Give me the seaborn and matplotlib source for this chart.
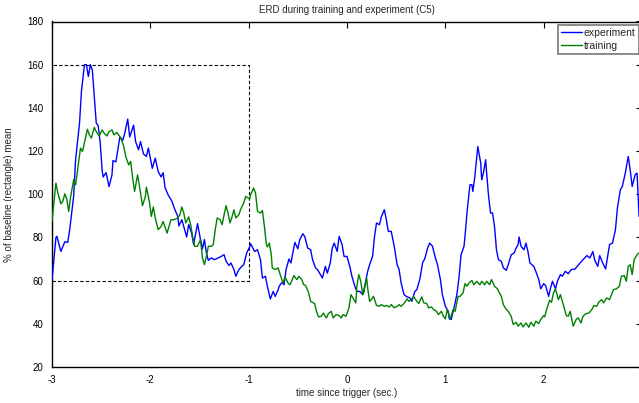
import numpy as np
import pandas as pd
import matplotlib
matplotlib.use("Agg")
import matplotlib.pyplot as plt
import seaborn as sns
from matplotlib.patches import Rectangle

# ---- data ----
exp_t = [-3.00, -2.96, -2.95, -2.91, -2.87, -2.84, -2.82, -2.78, -2.76, -2.72, -2.70, -2.67, -2.65, -2.63,
         -2.61, -2.59, -2.57, -2.55, -2.53, -2.51, -2.49, -2.48, -2.45, -2.42, -2.39, -2.38, -2.35, -2.33,
         -2.31, -2.28, -2.26, -2.23, -2.21, -2.17, -2.15, -2.12, -2.10, -2.07, -2.04, -2.02, -1.98, -1.95,
         -1.92, -1.89, -1.87, -1.85, -1.82, -1.78, -1.75, -1.72, -1.71, -1.68, -1.65, -1.63, -1.61, -1.58,
         -1.56, -1.52, -1.49, -1.47, -1.45, -1.43, -1.41, -1.38, -1.35, -1.31, -1.28, -1.25, -1.23, -1.20,
         -1.18, -1.15, -1.13, -1.10, -1.07, -1.05, -1.02, -0.99, -0.98, -0.94, -0.91, -0.88, -0.86, -0.83,
         -0.81, -0.78, -0.75, -0.73, -0.70, -0.69, -0.66, -0.64, -0.62, -0.59, -0.57, -0.55, -0.53, -0.50,
         -0.48, -0.45, -0.43, -0.40, -0.37, -0.35, -0.32, -0.30, -0.27, -0.25, -0.22, -0.20, -0.17, -0.15,
         -0.13, -0.10, -0.08, -0.05, -0.03, 0.00, 0.03, 0.05, 0.08, 0.10, 0.13, 0.16, 0.18, 0.21, 0.23,
         0.26, 0.28, 0.30, 0.33, 0.35, 0.38, 0.40, 0.42, 0.45, 0.48, 0.51, 0.53, 0.55, 0.58, 0.61, 0.64,
         0.66, 0.69, 0.71, 0.74, 0.77, 0.79, 0.82, 0.84, 0.87, 0.89, 0.92, 0.95, 0.97, 1.00, 1.03, 1.04,
         1.06, 1.08, 1.10, 1.12, 1.14, 1.16, 1.19, 1.20, 1.22, 1.25, 1.27, 1.28, 1.30, 1.32, 1.33, 1.36,
         1.37, 1.39, 1.41, 1.42, 1.44, 1.46, 1.48, 1.50, 1.52, 1.54, 1.57, 1.59, 1.62, 1.64, 1.67, 1.70,
         1.72, 1.74, 1.75, 1.77, 1.80, 1.82, 1.84, 1.86, 1.90, 1.92, 1.95, 1.97, 2.00, 2.02, 2.05, 2.07,
         2.09, 2.12, 2.14, 2.17, 2.19, 2.22, 2.25, 2.28, 2.32, 2.37, 2.40, 2.44, 2.47, 2.50, 2.52, 2.55,
         2.57, 2.60, 2.63, 2.65, 2.67, 2.70, 2.73, 2.75, 2.78, 2.80, 2.83, 2.86, 2.88, 2.90, 2.93, 2.95,
         2.97]
exp_v = [60.2, 80.0, 80.5, 73.5, 78.0, 77.7, 83.6, 99.0, 116.0, 133.0, 148.0, 160.0, 160.0, 154.5,
         160.0, 157.6, 145.0, 133.0, 131.7, 124.0, 111.0, 108.0, 110.0, 103.5, 109.0, 115.6, 115.0, 120.6,
         126.5, 125.0, 128.3, 134.8, 126.5, 132.0, 124.4, 120.6, 124.4, 118.7, 117.5, 121.4, 112.0, 116.7,
         110.5, 108.0, 110.0, 103.0, 99.8, 96.7, 92.8, 89.7, 85.3, 88.2, 83.3, 80.2, 86.0, 82.0,
         76.7, 86.4, 79.0, 74.7, 79.0, 72.8, 69.4, 70.5, 69.7, 70.5, 71.2, 72.0, 69.0, 67.0,
         68.2, 65.1, 62.0, 65.1, 66.6, 67.4, 72.8, 75.6, 77.1, 73.5, 74.3, 69.7, 61.2, 62.0,
         57.4, 51.5, 55.0, 52.7, 55.8, 57.4, 59.2, 58.1, 65.1, 70.0, 68.2, 73.1, 77.7, 74.7,
         79.0, 81.7, 80.5, 75.1, 74.3, 69.7, 65.9, 65.1, 62.8, 61.2, 66.6, 63.5, 68.2, 75.1,
         77.4, 73.5, 80.5, 76.7, 71.2, 71.2, 66.3, 62.0, 57.4, 55.0, 55.0, 53.5, 57.4, 64.3, 67.4,
         71.2, 80.5, 86.7, 85.9, 89.7, 92.8, 88.2, 82.8, 82.8, 75.9, 67.4, 65.1, 59.0, 53.5, 52.5, 52.0,
         50.4, 55.0, 55.8, 60.5, 68.5, 70.0, 75.1, 77.4, 75.9, 72.0, 67.4, 60.5, 53.5, 48.1, 45.8, 42.3,
         42.0, 45.8, 49.7, 54.3, 62.0, 72.0, 75.9, 80.5, 91.3, 104.4, 104.4, 101.3, 108.2, 117.5, 122.1, 114.4,
         106.7, 110.5, 116.0, 109.8, 99.0, 91.3, 91.3, 85.1, 74.3, 69.7, 68.9, 65.9, 64.8, 67.4, 72.0, 72.8,
         75.1, 76.7, 80.2, 75.9, 74.3, 77.4, 73.5, 68.2, 66.6, 64.3, 60.5, 56.2, 58.6, 57.7, 52.7, 56.6,
         59.7, 56.2, 59.7, 62.8, 62.0, 64.3, 63.2, 65.1, 65.4, 68.2, 69.7, 71.6, 70.5, 73.5, 69.4, 66.6,
         71.6, 68.2, 65.4, 71.2, 76.7, 77.4, 83.6, 93.6, 102.1, 103.6, 109.8, 117.5, 111.3, 103.6, 109.0, 109.8,
         89.7]

trn_t = [-3.00, -2.96, -2.94, -2.91, -2.89, -2.87, -2.85, -2.83, -2.81, -2.78, -2.76, -2.73, -2.71, -2.69,
         -2.66, -2.64, -2.62, -2.60, -2.57, -2.55, -2.52, -2.49, -2.47, -2.44, -2.42, -2.39, -2.37, -2.34,
         -2.30, -2.27, -2.25, -2.22, -2.20, -2.18, -2.16, -2.13, -2.11, -2.08, -2.05, -2.04, -2.01, -1.99,
         -1.97, -1.95, -1.92, -1.89, -1.87, -1.85, -1.83, -1.81, -1.79, -1.76, -1.72, -1.70, -1.68, -1.66,
         -1.64, -1.61, -1.59, -1.57, -1.55, -1.52, -1.49, -1.47, -1.45, -1.43, -1.41, -1.38, -1.36, -1.34,
         -1.32, -1.29, -1.27, -1.25, -1.23, -1.21, -1.19, -1.17, -1.15, -1.13, -1.10, -1.08, -1.05, -1.03,
         -0.99, -0.98, -0.95, -0.93, -0.91, -0.88, -0.86, -0.84, -0.82, -0.81, -0.79, -0.77, -0.76, -0.73,
         -0.70, -0.68, -0.65, -0.63, -0.60, -0.58, -0.56, -0.54, -0.51, -0.49, -0.46, -0.44, -0.42, -0.39,
         -0.37, -0.33, -0.31, -0.29, -0.26, -0.24, -0.21, -0.19, -0.16, -0.14, -0.11, -0.08, -0.06, -0.04,
         -0.01, 0.02, 0.04, 0.06, 0.09, 0.10, 0.12, 0.14, 0.16, 0.17, 0.20, 0.21, 0.23, 0.26, 0.27,
         0.30, 0.33, 0.35, 0.38, 0.40, 0.43, 0.45, 0.48, 0.51, 0.53, 0.55, 0.58, 0.61, 0.63, 0.65,
         0.68, 0.71, 0.73, 0.76, 0.78, 0.81, 0.83, 0.86, 0.88, 0.91, 0.93, 0.96, 0.98, 1.00, 1.02,
         1.05, 1.08, 1.10, 1.13, 1.15, 1.18, 1.20, 1.22, 1.24, 1.27, 1.29, 1.32, 1.35, 1.37, 1.40,
         1.42, 1.45, 1.47, 1.50, 1.53, 1.55, 1.57, 1.59, 1.62, 1.64, 1.67, 1.69, 1.72, 1.74, 1.77,
         1.79, 1.82, 1.85, 1.87, 1.90, 1.92, 1.95, 1.97, 2.00, 2.01, 2.03, 2.06, 2.08, 2.10, 2.12,
         2.15, 2.17, 2.20, 2.23, 2.25, 2.27, 2.30, 2.33, 2.35, 2.38, 2.40, 2.43, 2.46, 2.49, 2.51,
         2.54, 2.56, 2.59, 2.61, 2.64, 2.67, 2.69, 2.71, 2.74, 2.77, 2.79, 2.82, 2.84, 2.86, 2.88,
         2.90, 2.92, 2.95, 2.97]
trn_v = [87.6, 105.2, 100.5, 95.6, 96.7, 100.2, 97.8, 92.0, 99.0, 106.7, 104.4, 114.4, 121.4, 119.8,
         126.0, 130.1, 127.5, 126.0, 131.0, 129.0, 127.0, 129.8, 128.3, 127.0, 129.0, 129.8, 127.5, 128.6,
         126.0, 122.1, 117.5, 113.6, 115.2, 107.5, 101.3, 109.0, 103.6, 94.7, 99.0, 103.3, 96.7, 89.7,
         94.1, 89.0, 83.6, 85.1, 87.4, 84.8, 82.0, 85.1, 88.2, 88.2, 89.0, 90.5, 94.1, 91.3,
         86.7, 89.5, 85.9, 80.5, 75.9, 75.9, 79.0, 70.5, 67.4, 71.2, 75.9, 75.9, 76.7, 83.6,
         89.0, 88.2, 85.9, 90.5, 94.7, 91.3, 86.7, 89.5, 92.8, 89.0, 90.5, 93.2, 96.0, 99.0,
         97.8, 99.8, 102.9, 100.5, 92.0, 91.3, 92.5, 85.1, 76.7, 75.6, 77.4, 72.0, 65.9, 65.1,
         65.9, 62.8, 58.9, 61.7, 58.9, 58.1, 60.1, 62.3, 60.5, 62.0, 60.5, 58.1, 57.7, 54.3,
         50.4, 49.4, 45.8, 43.2, 43.5, 45.0, 42.7, 44.7, 45.8, 42.7, 44.3, 43.8, 42.7, 44.3,
         43.5, 47.4, 53.5, 52.0, 49.7, 57.4, 62.8, 59.7, 53.5, 54.3, 61.2, 56.6, 50.4, 52.0, 52.7,
         48.5, 48.1, 48.9, 48.1, 48.5, 47.8, 48.9, 47.4, 48.1, 48.9, 48.1, 49.4, 51.5, 50.4, 51.2,
         52.5, 50.4, 49.4, 52.5, 49.7, 49.4, 47.4, 47.8, 46.6, 45.8, 44.3, 45.8, 43.5, 42.3, 46.6,
         42.3, 46.6, 45.8, 52.7, 52.7, 54.3, 58.6, 57.4, 58.9, 60.1, 58.1, 59.7, 58.1, 59.7, 58.1,
         59.7, 58.1, 60.5, 57.4, 56.2, 54.3, 52.7, 48.9, 46.6, 45.8, 43.5, 39.7, 40.7, 38.9, 40.4,
         38.6, 40.4, 38.4, 40.7, 38.9, 41.2, 40.1, 42.0, 43.8, 43.2, 46.6, 50.9, 50.0, 54.3, 56.2,
         51.2, 53.5, 48.9, 43.8, 43.5, 45.8, 38.9, 42.0, 42.8, 40.4, 43.5, 44.7, 45.0, 46.6, 48.5,
         48.1, 50.0, 51.2, 49.7, 52.0, 51.2, 53.5, 55.8, 56.2, 57.4, 62.0, 62.3, 59.7, 66.6, 67.4,
         62.8, 69.7, 72.0, 72.8]

series_names = ["experiment", "training"]
series_colors = ["#0000ff", "#008000"]
x_ticks = [-3, -2, -1, 0, 1, 2, 3]
y_ticks = [20, 40, 60, 80, 100, 120, 140, 160, 180]
box_x = [-3, -1]
box_y = [60, 160]

df = pd.DataFrame({
    "t": exp_t + trn_t,
    "v": exp_v + trn_v,
    "series": [series_names[0]] * len(exp_t) + [series_names[1]] * len(trn_t),
})

sns.set_theme(style="white")
plt.rcParams["font.family"] = ["Liberation Sans", "DejaVu Sans"]

fig = plt.figure(figsize=(6.39, 4.03), dpi=100)
ax = fig.add_axes([52 / 639, 36 / 403, 590 / 639, 345.5 / 403])

# dashed rectangle
ax.add_patch(Rectangle((box_x[0], box_y[0]), box_x[1] - box_x[0], box_y[1] - box_y[0],
                       fill=False, ls=(0, (3, 2)), lw=0.8, ec="black", zorder=1))

sns.lineplot(data=df, x="t", y="v", hue="series", palette=dict(zip(series_names, series_colors)),
             estimator=None, sort=False, lw=1.0, ax=ax, zorder=3)

ax.set_xlim(-3, 3)
ax.set_ylim(20, 180)
ax.set_xticks(x_ticks)
ax.set_yticks(y_ticks)
ax.set_xticklabels([str(v) for v in x_ticks])
ax.tick_params(direction="in", top=True, right=True, length=4, width=0.8, labelsize=7,
               colors="black", pad=6)
for sp in ax.spines.values():
    sp.set_color("black")
    sp.set_linewidth(1.0)

ax.set_xlabel("time since trigger (sec.)", fontsize=7, labelpad=2)
ax.set_ylabel("% of baseline (rectangle) mean", fontsize=7, labelpad=10)
ax.set_title("ERD during training and experiment (C5)", fontsize=7, pad=6)

leg = ax.legend(loc="upper right", fontsize=7.5, frameon=True, fancybox=False, handlelength=2.0,
                handletextpad=0.2, borderpad=0.3, labelspacing=0.3, borderaxespad=0.3)
leg.get_frame().set_edgecolor("#555555")
leg.get_frame().set_linewidth(1.2)

fig.savefig("out.png", dpi=100)
